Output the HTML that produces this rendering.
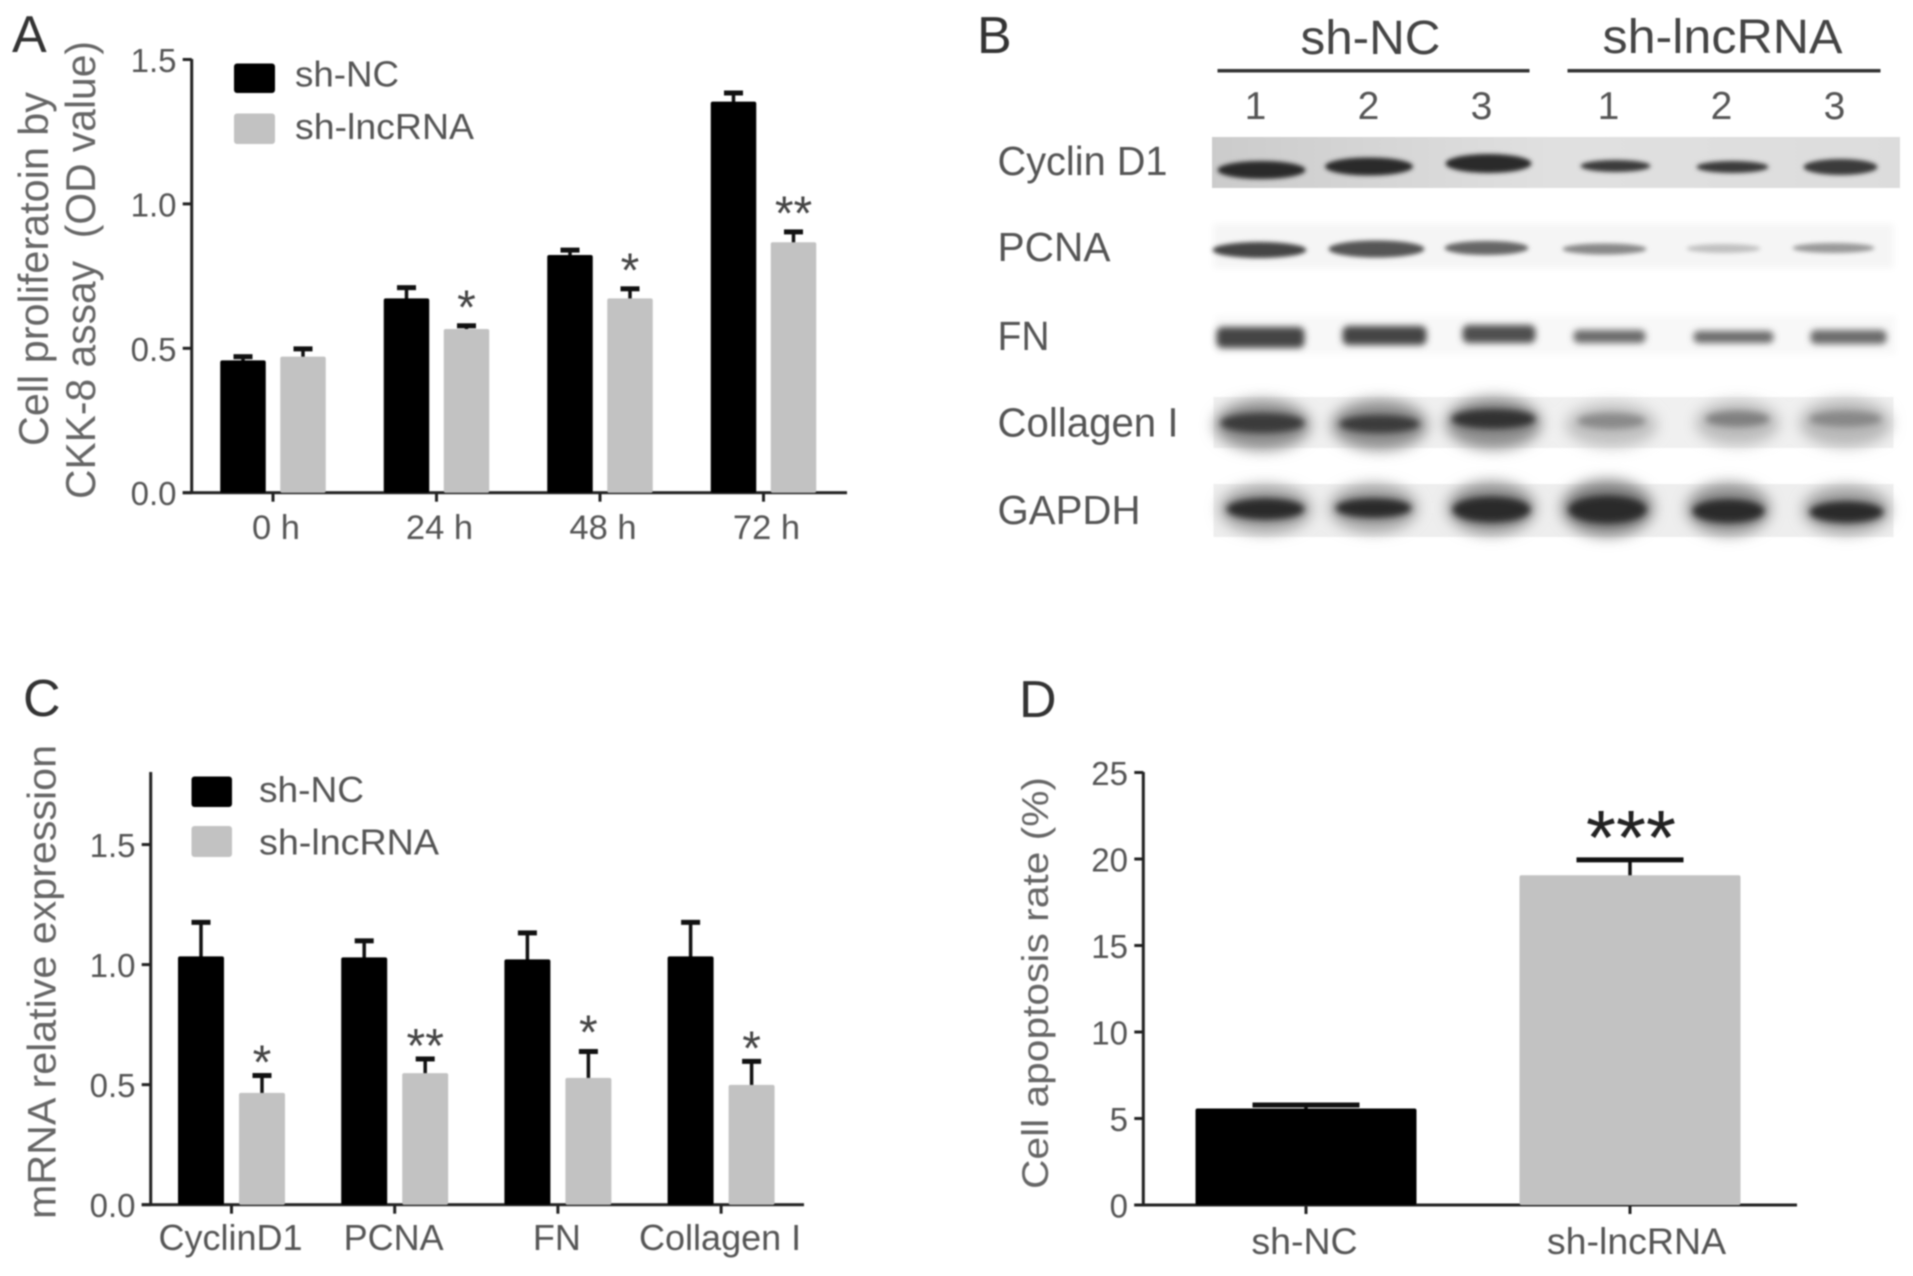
<!DOCTYPE html>
<html lang="en">
<head>
<meta charset="utf-8">
<title>Cell proliferation, protein and mRNA expression, and apoptosis panels</title>
<style>
html,body{margin:0;padding:0;background:#fff;}
#figure{display:block;filter:blur(0.7px);font-family:"Liberation Sans",Arial,sans-serif;}
</style>
</head>
<body>
<svg id="figure" width="1913" height="1276" viewBox="0 0 1913 1276">
<defs>
<filter id="b1" x="-30%" y="-80%" width="160%" height="260%"><feGaussianBlur stdDeviation="2.2"/></filter>
<filter id="b2" x="-30%" y="-80%" width="160%" height="260%"><feGaussianBlur stdDeviation="3.5"/></filter>
<filter id="b3" x="-30%" y="-60%" width="160%" height="220%"><feGaussianBlur stdDeviation="7"/></filter>
<linearGradient id="row1bg" x1="0" x2="1" y1="0" y2="0"><stop offset="0" stop-color="#cbcbcb"/><stop offset="0.5" stop-color="#e0e0e0"/><stop offset="1" stop-color="#dcdcdc"/></linearGradient>
</defs>
<rect width="1913" height="1276" fill="#fff"/>

<g fill="#333" font-size="52">
<text x="12" y="52">A</text>
<text x="977" y="53">B</text>
<text x="23" y="716">C</text>
<text x="1019" y="717">D</text>
</g>

<g transform="translate(-2.5,0)">
<g fill="#444">
<text x="1303" y="54" font-size="48" textLength="140" lengthAdjust="spacingAndGlyphs">sh-NC</text>
<text x="1605" y="53" font-size="48" textLength="240" lengthAdjust="spacingAndGlyphs">sh-lncRNA</text>
<rect x="1220" y="69" width="312" height="3.5" fill="#333"/>
<rect x="1570" y="69" width="313" height="3.5" fill="#333"/>
<g font-size="39" text-anchor="middle" fill="#555">
<text x="1258" y="119">1</text>
<text x="1371" y="119">2</text>
<text x="1484" y="119">3</text>
<text x="1611" y="119">1</text>
<text x="1724" y="119">2</text>
<text x="1837" y="119">3</text>
</g>
</g>
<g fill="#555" font-size="41">
<text x="1000" y="175" textLength="170" lengthAdjust="spacingAndGlyphs">Cyclin D1</text>
<text x="1000" y="261" textLength="113" lengthAdjust="spacingAndGlyphs">PCNA</text>
<text x="1000" y="350" textLength="52" lengthAdjust="spacingAndGlyphs">FN</text>
<text x="1000" y="436.5" textLength="181" lengthAdjust="spacingAndGlyphs">Collagen I</text>
<text x="1000" y="524" textLength="143" lengthAdjust="spacingAndGlyphs">GAPDH</text>
</g>

<g>
<rect x="1214.5" y="137" width="688" height="51" fill="url(#row1bg)"/>
<g filter="url(#b1)" fill="#2a2a2a">
<ellipse cx="1264" cy="170" rx="44" ry="9"/>
<ellipse cx="1371.5" cy="166.5" rx="44" ry="9"/>
<ellipse cx="1491" cy="163.5" rx="43" ry="9.5"/>
<ellipse cx="1618" cy="166" rx="35" ry="6" fill="#3a3a3a"/>
<ellipse cx="1735" cy="167" rx="36" ry="6" fill="#3a3a3a"/>
<ellipse cx="1843" cy="167" rx="37" ry="8" fill="#3a3a3a"/>
</g>
</g>

<g>
<rect x="1216" y="224" width="680" height="44" fill="#f5f5f5" filter="url(#b2)"/>
<g filter="url(#b1)">
<ellipse cx="1262" cy="250" rx="47" ry="8" fill="#444"/>
<ellipse cx="1379" cy="249" rx="48" ry="8.5" fill="#555"/>
<ellipse cx="1489" cy="248" rx="42" ry="7" fill="#666"/>
<ellipse cx="1607" cy="249" rx="42" ry="5.5" fill="#888"/>
<ellipse cx="1726" cy="248.5" rx="37" ry="4.5" fill="#c0c0c0"/>
<ellipse cx="1836" cy="248" rx="41" ry="5" fill="#999"/>
</g>
</g>

<g>
<rect x="1218" y="316" width="680" height="38" fill="#f8f8f8" filter="url(#b2)"/>
<g filter="url(#b2)">
<rect x="1219" y="327" width="88" height="21" rx="6" fill="#444"/>
<rect x="1345" y="326" width="84" height="19" rx="6" fill="#444"/>
<rect x="1465" y="325" width="73" height="18" rx="6" fill="#505050"/>
<rect x="1576" y="330" width="72" height="13" rx="5" fill="#6a6a6a"/>
<rect x="1696" y="331" width="80" height="12" rx="5" fill="#6a6a6a"/>
<rect x="1813" y="330" width="76" height="14" rx="5" fill="#6a6a6a"/>
</g>
</g>

<g>
<rect x="1216" y="397" width="680" height="51" fill="#f0f0f0"/>
<g filter="url(#b3)">
<ellipse cx="1265" cy="425" rx="48" ry="25" fill="#8c8c8c"/>
<ellipse cx="1382" cy="425" rx="48" ry="25" fill="#8c8c8c"/>
<ellipse cx="1496" cy="423" rx="48" ry="26" fill="#8c8c8c"/>
<ellipse cx="1614" cy="425" rx="46" ry="22" fill="#c0c0c0"/>
<ellipse cx="1740" cy="423" rx="42" ry="22" fill="#bcbcbc"/>
<ellipse cx="1848" cy="423" rx="46" ry="24" fill="#b8b8b8"/>
</g>
<g filter="url(#b2)">
<ellipse cx="1265" cy="423" rx="42" ry="10" fill="#3a3a3a"/>
<ellipse cx="1382" cy="424" rx="40" ry="9" fill="#3a3a3a"/>
<ellipse cx="1496" cy="419" rx="42" ry="10" fill="#303030"/>
<ellipse cx="1614" cy="421" rx="34" ry="8" fill="#8a8a8a"/>
<ellipse cx="1740" cy="419" rx="32" ry="8" fill="#808080"/>
<ellipse cx="1848" cy="419" rx="36" ry="8" fill="#888"/>
</g>
</g>

<g>
<rect x="1216" y="484" width="680" height="53" fill="#eeeeee"/>
<g filter="url(#b3)">
<ellipse cx="1268" cy="509" rx="46" ry="24" fill="#a0a0a0"/>
<ellipse cx="1376" cy="508" rx="44" ry="24" fill="#a0a0a0"/>
<ellipse cx="1494" cy="508" rx="44" ry="26" fill="#909090"/>
<ellipse cx="1610" cy="508" rx="46" ry="28" fill="#808080"/>
<ellipse cx="1731" cy="509" rx="42" ry="26" fill="#909090"/>
<ellipse cx="1849" cy="510" rx="44" ry="24" fill="#a0a0a0"/>
</g>
<g filter="url(#b2)" fill="#2c2c2c">
<ellipse cx="1268" cy="509" rx="39" ry="11"/>
<ellipse cx="1376" cy="508" rx="38" ry="10"/>
<ellipse cx="1494" cy="509.5" rx="39" ry="13"/>
<ellipse cx="1610" cy="509.5" rx="39" ry="14"/>
<ellipse cx="1731" cy="511" rx="36" ry="12"/>
<ellipse cx="1849" cy="512" rx="37" ry="11"/>
</g>
</g>
</g>

<g id="panelA">
<g fill="#666" font-size="42">
<text transform="translate(48,446) rotate(-90)" textLength="354" lengthAdjust="spacingAndGlyphs">Cell proliferatoin by</text>
<text transform="translate(95,499) rotate(-90)" textLength="458" lengthAdjust="spacingAndGlyphs" xml:space="preserve">CKK-8 assay  (OD value)</text>
</g>
<g>
<rect x="234" y="63.5" width="41" height="29.5" rx="3" fill="#000"/>
<rect x="234" y="113.5" width="41" height="30.5" rx="3" fill="#c2c2c2"/>
<text x="295" y="86.5" font-size="36" fill="#555" textLength="104" lengthAdjust="spacingAndGlyphs">sh-NC</text>
<text x="295" y="139" font-size="36" fill="#555" textLength="179" lengthAdjust="spacingAndGlyphs">sh-lncRNA</text>
</g>
</g>

<g id="panelC">
<text transform="translate(55.5,1219) rotate(-90)" fill="#666" font-size="40" textLength="474" lengthAdjust="spacingAndGlyphs">mRNA relative expression</text>
<g>
<rect x="191.5" y="776.5" width="40.5" height="30.5" rx="3" fill="#000"/>
<rect x="191.5" y="826" width="40.5" height="31" rx="3" fill="#c2c2c2"/>
<text x="259" y="802" font-size="36" fill="#555" textLength="105" lengthAdjust="spacingAndGlyphs">sh-NC</text>
<text x="259" y="854.5" font-size="36" fill="#555" textLength="180" lengthAdjust="spacingAndGlyphs">sh-lncRNA</text>
</g>
</g>

<g id="panelD">
<text transform="translate(1048,1189) rotate(-90)" fill="#666" font-size="37" textLength="412" lengthAdjust="spacingAndGlyphs">Cell apoptosis rate (%)</text>
</g>
</svg>

<script>
// Panel A values
const aCategories = ['0 h', '24 h', '48 h', '72 h'];
const aNC = [0.458, 0.673, 0.823, 1.354];
const aNCError = [0.013, 0.037, 0.017, 0.030];
const aLnc = [0.471, 0.567, 0.673, 0.867];
const aLncError = [0.027, 0.011, 0.033, 0.036];
const aSignificance = ['', '*', '*', '**'];
const aTicks = ['0.0', '0.5', '1.0', '1.5'];

// Panel C values
const cCategories = ['CyclinD1', 'PCNA', 'FN', 'Collagen I'];
const cNC = [1.034, 1.03, 1.022, 1.034];
const cNCError = [0.142, 0.069, 0.110, 0.142];
const cLnc = [0.466, 0.548, 0.528, 0.499];
const cLncError = [0.072, 0.059, 0.110, 0.098];
const cSignificance = ['*', '**', '*', '*'];
const cTicks = ['0.0', '0.5', '1.0', '1.5'];

// Panel D values
const dCategories = ['sh-NC', 'sh-lncRNA'];
const dValues = [5.58, 19.06];
const dErrors = [0.2, 0.89];
const dSignificance = ['', '***'];
const dTicks = ['0', '5', '10', '15', '20', '25'];

const NS = document.getElementById('figure').namespaceURI;

function mk(tag, parent, name, attrs) {
  const el = document.createElementNS(NS, tag);
  
  
  for (const k in attrs) el.setAttribute(k, attrs[k]);
  parent.appendChild(el);
  return el;
}
function slug(s) { return s.toLowerCase().replace(/[^a-z0-9]+/g, '-'); }

function drawAxes(g, o) {
  const axisColor = '#222';
  mk('rect', g, 'y-axis-line', {x: o.axisX - 1.5, y: o.yTop, width: 3, height: o.y(0) - o.yTop + 1, fill: axisColor});
  mk('rect', g, 'x-axis-line', {x: o.axisX - o.tickLen, y: o.y(0) - 1.5, width: o.xEnd - o.axisX + o.tickLen, height: 3, fill: axisColor});
  o.ticks.forEach(function (t) {
    const v = parseFloat(t);
    mk('rect', g, 'y-tick-' + slug(t), {x: o.axisX - o.tickLen, y: o.y(v) - 1.5, width: o.tickLen, height: 3, fill: axisColor});
    const label = mk('text', g, 'y-tick-label-' + slug(t), {x: o.tickRight, y: o.y(v) + 12.5, 'font-size': o.tickFont, fill: '#555', 'text-anchor': 'end'});
    label.textContent = t;
  });
}

function drawBar(g, name, cx, w, value, err, color, y, capW, capH) {
  const top = y(value), base = y(0), errTop = y(value + err);
  mk('rect', g, name + '-error-stem', {x: cx - 1.75, y: errTop, width: 3.5, height: top - errTop + 1, fill: '#111'});
  mk('rect', g, name + '-error-cap', {x: cx - capW / 2, y: errTop - capH / 2, width: capW, height: capH, fill: '#111'});
  mk('rect', g, name, {x: cx - w / 2, y: top, width: w, height: base - top, rx: 2, fill: color});
  return errTop;
}

function drawStars(g, name, cx, errTop, gap, size, color, text) {
  if (!text) return;
  const star = mk('text', g, name, {x: cx, y: errTop - gap + 0.42 * size, 'font-size': size, fill: color, 'text-anchor': 'middle'});
  star.textContent = text;
}

function drawGrouped(g, o) {
  drawAxes(g, o);
  o.categories.forEach(function (cat, i) {
    const cx = o.x(i), id = slug(cat);
    mk('rect', g, 'x-tick-' + id, {x: cx - 1.5, y: o.y(0), width: 3, height: o.tickLen, fill: '#222'});
    const lab = mk('text', g, 'x-tick-label-' + id, {x: cx + o.labelShift, y: o.labelY, 'font-size': o.labelFont, fill: '#555', 'text-anchor': 'middle'});
    lab.textContent = cat;
    drawBar(g, 'bar-sh-nc-' + id, cx - o.offset, o.barW, o.nc[i], o.ncErr[i], '#000', o.y, 19, 5);
    const et = drawBar(g, 'bar-sh-lncrna-' + id, cx + o.offset, o.barW, o.lnc[i], o.lncErr[i], '#c2c2c2', o.y, 19, 5);
    drawStars(g, 'significance-' + id, cx + o.offset, et, o.starGap(i), 48, '#444', o.sig[i]);
  });
}

const scaleAY = function (v) { return 492.7 - v * 288.8; };
const scaleAX = function (i) { return 273 + i * 163.5; };
drawGrouped(document.getElementById('panelA'), {
  categories: aCategories, nc: aNC, ncErr: aNCError, lnc: aLnc, lncErr: aLncError, sig: aSignificance, ticks: aTicks,
  y: scaleAY, x: scaleAX, axisX: 191.7, yTop: 59, xEnd: 847, tickLen: 9, tickRight: 176.5, tickFont: 33,
  labelY: 539, labelFont: 34.5, labelShift: 3, offset: 30, barW: 45.5, starGap: function () { return 22.5; }
});

const scaleCY = function (v) { return 1204.7 - v * 240.1; };
const scaleCX = function (i) { return 231.5 + i * 163.2; };
drawGrouped(document.getElementById('panelC'), {
  categories: cCategories, nc: cNC, ncErr: cNCError, lnc: cLnc, lncErr: cLncError, sig: cSignificance, ticks: cTicks,
  y: scaleCY, x: scaleCX, axisX: 150.7, yTop: 772, xEnd: 804, tickLen: 9, tickRight: 135.5, tickFont: 33,
  labelY: 1250, labelFont: 36, labelShift: -1, offset: 30.5, barW: 46, starGap: function (i) { return i === 2 ? 23 : 17; }
});

const scaleDY = function (v) { return 1205 - v * 17.3; };
const scaleDX = function (i) { return 1306 + i * 324; };
(function () {
  const g = document.getElementById('panelD');
  drawAxes(g, {ticks: dTicks, y: scaleDY, axisX: 1143.3, yTop: 772, xEnd: 1797, tickLen: 9, tickRight: 1128, tickFont: 33});
  const colors = ['#000', '#c2c2c2'];
  const labelShift = [-1.5, 6.5];
  dCategories.forEach(function (cat, i) {
    const cx = scaleDX(i), id = slug(cat);
    mk('rect', g, 'x-tick-' + id, {x: cx - 1.5, y: scaleDY(0), width: 3, height: 9, fill: '#222'});
    const lab = mk('text', g, 'x-tick-label-' + id, {x: cx + labelShift[i], y: 1254, 'font-size': 37.5, fill: '#555', 'text-anchor': 'middle'});
    lab.textContent = cat;
    const et = drawBar(g, 'bar-' + id, cx, 221, dValues[i], dErrors[i], colors[i], scaleDY, 107, 5);
    drawStars(g, 'significance-' + id, cx + 1, et, 28, 77, '#222', dSignificance[i]);
  });
})();
</script>
</body>
</html>
